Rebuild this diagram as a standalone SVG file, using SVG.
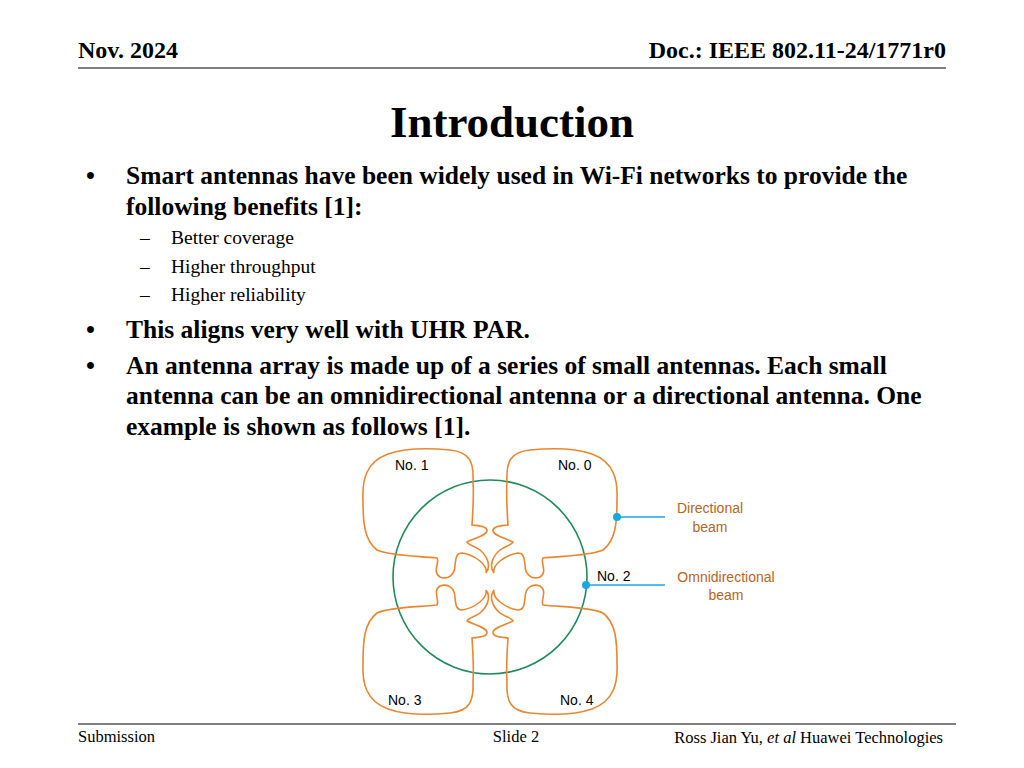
<svg xmlns="http://www.w3.org/2000/svg" width="1024" height="768" viewBox="0 0 1024 768">
<style>
.s{font-family:"Liberation Serif",serif;fill:#000}
.b{font-weight:bold;font-size:25.5px}
.sub{font-size:19.5px}
.a{font-family:"Liberation Sans",Arial,sans-serif;font-size:14px}
.lobe{fill:none;stroke:#e8872f;stroke-width:1.6}
</style>
<rect width="1024" height="768" fill="#fff"/>
<g id="header">
<text class="s" x="78" y="58" font-size="24" font-weight="bold">Nov. 2024</text>
<text class="s" x="946" y="58" font-size="24" font-weight="bold" text-anchor="end">Doc.: IEEE 802.11-24/1771r0</text>
<line x1="78" y1="68" x2="946" y2="68" stroke="#000" stroke-width="1.2"/>
<text class="s" x="512" y="137" font-size="45" font-weight="bold" text-anchor="middle">Introduction</text>
</g>
<g id="body">
<text class="s b" x="86" y="184">•</text>
<text class="s b" x="126" y="184">Smart antennas have been widely used in Wi-Fi networks to provide the</text>
<text class="s b" x="126" y="215">following benefits [1]:</text>
<text class="s sub" x="140" y="244">–</text><text class="s sub" x="171" y="244">Better coverage</text>
<text class="s sub" x="140" y="273">–</text><text class="s sub" x="171" y="273">Higher throughput</text>
<text class="s sub" x="140" y="301">–</text><text class="s sub" x="171" y="301">Higher reliability</text>
<text class="s b" x="86" y="338">•</text>
<text class="s b" x="126" y="338">This aligns very well with UHR PAR.</text>
<text class="s b" x="86" y="374">•</text>
<text class="s b" x="126" y="374">An antenna array is made up of a series of small antennas. Each small</text>
<text class="s b" x="126" y="404">antenna can be an omnidirectional antenna or a directional antenna. One</text>
<text class="s b" x="126" y="435">example is shown as follows [1].</text>
</g>
<g id="antenna">
<circle cx="490" cy="577" r="97" fill="none" stroke="#1f8a5a" stroke-width="1.6"/>
<defs>
<path id="lb" class="lobe" d="M508,525 C507,510 506,495 507,482 C506,462 510,452 530,450 C550,448 575,448 592,454 C614,462 618,480 617,500 C617,522 616,540 603,550 C590,556 560,556 543,558 C540,562 548,572 540,577 C532,580 525,575 525,565 C524,558 524,553 518,553 C505,555 492,565 494,573 C488,565 494,555 500,550 C505,546 512,545 513,542 C505,538 492,535 493,530 C494,526 500,526 508,525 Z"/>
</defs>
<use href="#lb"/>
<use href="#lb" transform="matrix(-1,0,0,1,980,0)"/>
<use href="#lb" transform="matrix(1,0,0,-1,0,1163)"/>
<use href="#lb" transform="matrix(-1,0,0,-1,980,1163)"/>
<text class="a" x="395" y="470">No. 1</text>
<text class="a" x="558" y="470">No. 0</text>
<text class="a" x="597" y="581">No. 2</text>
<text class="a" x="388" y="705">No. 3</text>
<text class="a" x="560" y="705">No. 4</text>
</g>
<g id="connectors">
<line x1="617" y1="517" x2="665" y2="517" stroke="#1aa7e0" stroke-width="1.4"/>
<circle cx="617" cy="517" r="4" fill="#1aa7e0"/>
<line x1="586" y1="585" x2="665" y2="585" stroke="#1aa7e0" stroke-width="1.4"/>
<circle cx="586" cy="585" r="4" fill="#1aa7e0"/>
<text class="a" x="710" y="513" text-anchor="middle" fill="#b5651d">Directional</text>
<text class="a" x="710" y="532" text-anchor="middle" fill="#b5651d">beam</text>
<text class="a" x="726" y="582" text-anchor="middle" fill="#b5651d">Omnidirectional</text>
<text class="a" x="726" y="600" text-anchor="middle" fill="#b5651d">beam</text>
</g>
<g id="footer">
<line x1="78" y1="724" x2="956" y2="724" stroke="#000" stroke-width="1.2"/>
<text class="s" x="78" y="742" font-size="16.5">Submission</text>
<text class="s" x="516" y="742" font-size="16.5" text-anchor="middle">Slide 2</text>
<text class="s" x="943" y="743" font-size="16.5" text-anchor="end">Ross Jian Yu, <tspan font-style="italic">et al</tspan> Huawei Technologies</text>
</g>
</svg>
